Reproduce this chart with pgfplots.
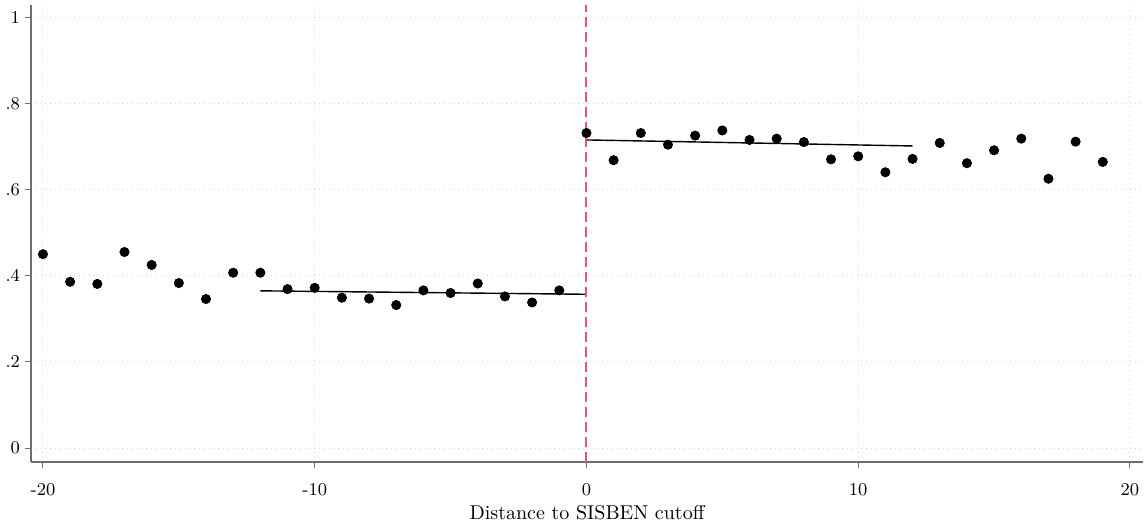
\documentclass[border=0pt]{standalone}
\usepackage{pgfplots}
\pgfplotsset{compat=1.18}
\definecolor{cutred}{RGB}{228,86,110}
\definecolor{axgray}{RGB}{110,110,110}
\definecolor{gridgray}{RGB}{215,215,215}
\begin{document}
\begin{tikzpicture}
\begin{axis}[
  name=main,
  scale only axis,
  width=556pt, height=228.5pt,
  xmin=-20.44, xmax=20.48,
  ymin=-0.032, ymax=1.028,
  axis x line*=bottom, axis y line*=left,
  axis line style={axgray, line width=0.7pt, -},
  xtick={-20,-10,0,10,20},
  ytick={0,0.2,0.4,0.6,0.8,1},
  yticklabels={0,.2,.4,.6,.8,1},
  tick align=outside,
  major tick length=3pt,
  tick style={axgray, line width=0.5pt},
  grid=major,
  grid style={gridgray, dotted, line width=0.5pt},
  ticklabel style={font=\small, text=black},
  /pgf/number format/assume math mode=true,
  xlabel={Distance to SISBEN cutoff},
  xlabel style={yshift=2pt},
  xticklabel style={yshift=-4pt},
  yticklabel style={xshift=1pt},
  clip=false,
]
\addplot[only marks, mark=*, mark size=2.3pt, black] coordinates {
(-20,0.450) (-19,0.386) (-18,0.381) (-17,0.455) (-16,0.425) (-15,0.383)
(-14,0.346) (-13,0.407) (-12,0.407) (-11,0.369) (-10,0.372) (-9,0.349)
(-8,0.347) (-7,0.332) (-6,0.366) (-5,0.360) (-4,0.382) (-3,0.352)
(-2,0.338) (-1,0.366)
(0,0.731) (1,0.668) (2,0.731) (3,0.704) (4,0.725) (5,0.737) (6,0.715)
(7,0.718) (8,0.710) (9,0.670) (10,0.677) (11,0.640) (12,0.671) (13,0.708)
(14,0.661) (15,0.691) (16,0.718) (17,0.625) (18,0.711) (19,0.664)
};
\addplot[black, line width=0.7pt] coordinates {(-12,0.365) (0,0.357)};
\addplot[black, line width=0.7pt] coordinates {(0,0.715) (12,0.701)};
\addplot[cutred, line width=1pt, dash pattern=on 5pt off 2.5pt] coordinates {(0,-0.032) (0,1.028)};
\end{axis}
\pgfresetboundingbox
\path ([shift={(-15.5pt,2.5pt)}]main.north west) rectangle ([shift={(1.5pt,-32.5pt)}]main.south east);
\end{tikzpicture}
\end{document}
